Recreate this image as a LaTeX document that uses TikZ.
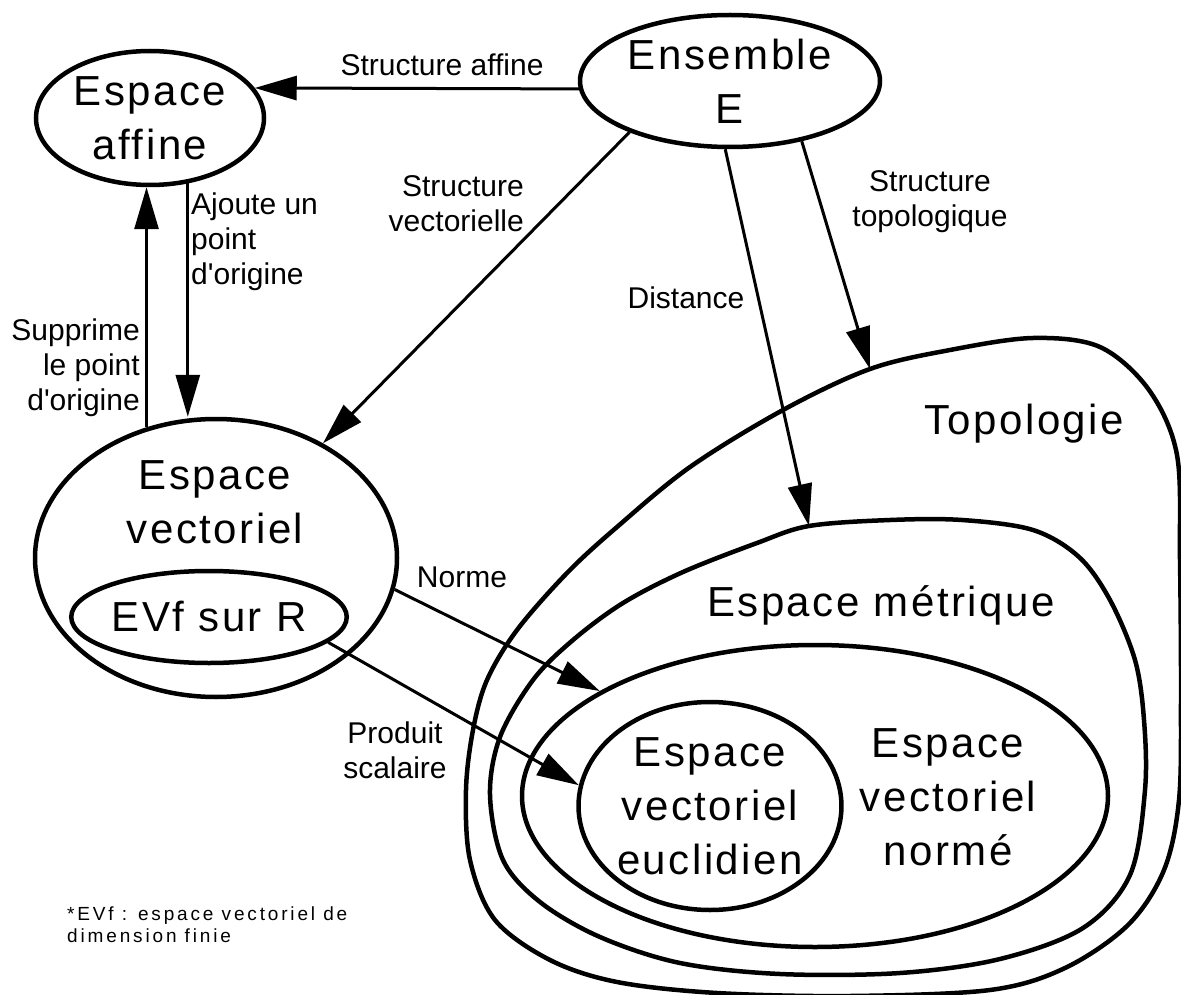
\documentclass[tikz,border=0pt]{standalone}
\usepackage{fontspec}
\setmainfont{Liberation Sans}
\newfontfamily\bigfam{Liberation Sans}[LetterSpace=6]
\newfontfamily\notefam{Liberation Sans}[LetterSpace=15]
\usetikzlibrary{shapes.geometric,arrows.meta}

\tikzset{
  oval/.style={draw, ellipse, line width=4.5pt, inner sep=0pt, align=center},
  bigtxt/.style={font=\bigfam\fontsize{42}{54}\selectfont, align=center, inner sep=0pt},
  smalltxt/.style={font=\fontsize{30}{35}\selectfont, inner sep=0pt},
  blob/.style={line width=4.5pt, line join=round}
}

\begin{document}
\begin{tikzpicture}[x=1pt,y=-1pt]
        \useasboundingbox (0,0) rectangle (1181,995);
                \coordinate (topohit) at (870,369);
                \coordinate (methit) at (809,526);
                \draw[blob] plot[smooth cycle, tension=0.55] coordinates {(topohit) (950,350) (1033,338) (1100,347) (1149,390) (1177,455) (1180,560) (1181,700) (1179,800) (1164,870) (1128,925) (1065,968) (990,990) (850,996) (717,993) (617,982) (550,960) (495,920) (470,860) (466,790) (473,730) (487,680) (517,630) (567,573) (617,527) (690,467) (783,410)};
                \draw[blob] plot[smooth cycle, tension=0.55] coordinates {(methit) (890,520) (962,520) (1033,530) (1079,557) (1110,600) (1135,660) (1144,720) (1145,790) (1130,875) (1083,928) (1000,959) (900,973) (780,974) (680,963) (600,937) (540,902) (503,860) (490,795) (500,737) (533,680) (573,640) (623,603) (683,572) (757,543)};
                \begin{scope}[every node/.style={oval, bigtxt}]
                        \node[minimum width=228, minimum height=134] (aff) at (150,118) {Espace\\affine};
                        \node[minimum width=300, minimum height=132] (ens) at (730,81) {Ensemble\\E};
                        \node[minimum width=362, minimum height=278] (vec) at (216,558) {};
                        \node[minimum width=224, minimum height=92] (evf) at (209,617) {EVf sur R};
                        \node[minimum width=586, minimum height=302] (nvn) at (815,796) {};
                        \node[minimum width=256, minimum height=208] (euc) at (710,806) {Espace\\vectoriel\\euclidien};
                \end{scope}
                \begin{scope}[every node/.style={bigtxt}]
                        \node (vectxt) at (215,502) {Espace\\vectoriel};
                        \node (nvntxt) at (948,797) {Espace\\vectoriel\\normé};
                        \node (toptxt) at (1024,424) {Topologie};
                        \node (mettxt) at (881,605) {Espace métrique};
                \end{scope}
                \begin{scope}[every path/.style={line width=3pt, -{Triangle[length=42pt,width=24pt]}}]
                        \path (ens.183) edge (aff.16);
                        \path (ens.207) edge (vec.47);
                        \path (ens.266) edge (methit);
                        \path (ens.320) edge (topohit);
                        \path (vec.118) edge (vec.118 |- aff.south);
                        \path (aff.300) edge (aff.300 |- vec.north);
                        \path (vec.350) edge (nvn.154);
                        \path (evf.348) edge (euc.171);
                \end{scope}
                \begin{scope}[every node/.style={smalltxt}]
                        \node (lbaff) at (442,65) {Structure affine};
                        \node[anchor=east, align=right] (lbvec) at (524,204) {Structure\\vectorielle};
                        \node[anchor=west, align=left] (lbajo) at (191,242) {Ajoute un\\point\\d\textquotesingle origine};
                        \node[anchor=east, align=right] (lbsup) at (140,368) {Supprime\\le point\\d\textquotesingle origine};
                        \node (lbdis) at (686,298) {Distance};
                        \node[align=center] (lbtop) at (930,202) {Structure\\topologique};
                        \node (lbnor) at (462,577) {Norme};
                        \node[align=center] (lbpro) at (395,750) {Produit\\scalaire};
                \end{scope}
                \node[anchor=west, align=left, inner sep=0pt, font=\notefam\fontsize{19}{22}\selectfont] (note) at (67,925) {*EVf : espace vectoriel de\\dimension finie};
\end{tikzpicture}
\end{document}
